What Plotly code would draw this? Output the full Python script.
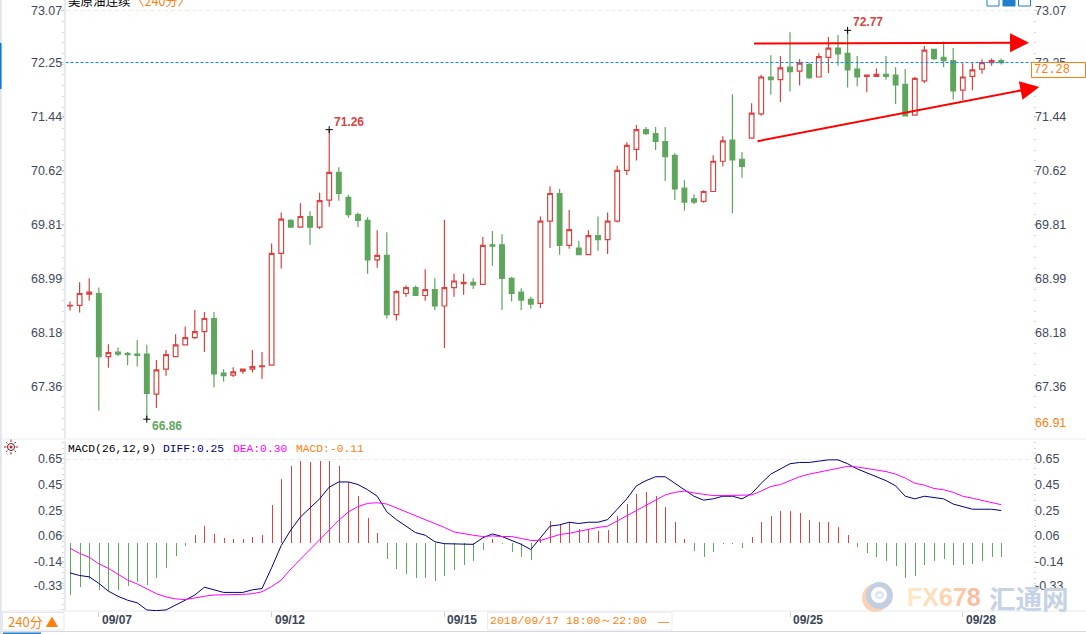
import plotly.graph_objects as go

# ---- data ----
opens = [68.58,68.59,68.76,68.77,67.81,67.88,67.86,67.85,67.85,67.24,67.62,67.81,67.99,68.10,68.19,68.39,67.56,67.53,67.59,67.62,67.66,67.68,
 69.38,69.88,69.78,69.94,69.78,70.19,70.61,70.23,69.97,69.88,69.28,69.35,68.45,68.77,68.86,68.74,68.83,68.58,68.86,68.92,68.94,68.91,69.51,69.51,69.00,68.79,68.68,68.62,
 69.87,70.29,69.50,69.46,69.36,69.65,69.59,69.87,70.64,70.96,71.26,71.20,71.08,70.87,70.37,70.21,70.17,70.32,70.78,71.10,70.81,71.13,
 71.50,72.06,72.02,72.21,72.15,72.25,72.06,72.36,72.50,72.42,72.18,72.07,72.07,72.10,72.09,71.95,71.48,72.00,72.48,72.36,72.31,71.86,72.07,72.18,72.28,72.31]
highs = [68.65,68.94,69.00,68.86,68.00,67.95,67.88,68.06,67.99,67.76,67.91,68.15,68.27,68.52,68.49,68.49,67.62,67.65,67.63,67.91,67.88,69.53,
 70.00,69.90,70.14,70.02,70.30,71.26,70.69,70.27,70.00,69.93,69.73,69.70,68.82,68.89,68.89,69.14,69.00,69.89,69.07,69.07,69.00,69.63,69.72,69.67,69.02,68.85,68.72,69.94,
 70.40,70.36,70.04,69.57,69.73,69.94,70.00,70.71,71.07,71.33,71.30,71.30,71.30,70.90,70.49,70.28,70.34,70.87,71.16,71.80,70.92,71.66,
 72.09,72.39,72.38,72.74,72.33,72.28,72.42,72.67,72.70,72.77,72.38,72.09,72.19,72.38,72.21,72.18,72.06,72.53,72.49,72.60,72.50,72.27,72.27,72.33,72.34,72.34]
lows = [68.51,68.48,68.66,66.99,67.64,67.82,67.68,67.66,66.86,67.03,67.52,67.81,67.99,68.08,67.88,67.34,67.43,67.50,67.55,67.57,67.47,67.68,
 69.15,69.77,69.78,69.51,69.75,70.09,70.18,69.92,69.78,69.07,69.16,68.39,68.36,68.72,68.74,68.66,68.52,67.94,68.72,68.75,68.84,68.91,69.19,68.52,68.65,68.52,68.54,68.55,
 69.46,69.36,69.45,69.36,69.36,69.42,69.37,69.85,70.57,70.79,71.18,70.95,70.48,70.19,70.03,70.13,70.15,70.32,70.70,69.99,70.53,71.13,
 71.47,71.79,71.68,71.84,71.93,72.03,72.06,72.12,72.23,71.90,71.92,71.83,72.06,72.02,71.65,71.47,71.48,71.97,72.32,72.21,71.72,71.71,71.86,72.11,72.23,72.25]
closes = [68.59,68.77,68.79,67.81,67.87,67.85,67.84,67.83,67.25,67.61,67.84,67.99,68.10,68.19,68.39,67.55,67.52,67.58,67.62,67.66,67.67,69.38,
 69.90,69.78,69.94,69.78,70.18,70.61,70.29,69.97,69.88,69.28,69.35,68.45,68.80,68.86,68.74,68.83,68.58,68.86,68.96,68.94,68.90,69.50,69.49,69.00,68.77,68.67,68.61,69.87,
 70.29,69.50,69.74,69.36,69.65,69.59,69.87,70.64,71.02,71.26,71.20,71.08,70.85,70.36,70.16,70.16,70.32,70.78,71.09,70.80,70.70,71.51,
 72.06,72.02,72.20,72.14,72.27,72.05,72.37,72.50,72.41,72.17,72.06,72.09,72.10,72.07,71.94,71.47,72.04,72.47,72.34,72.31,71.85,72.06,72.17,72.28,72.31,72.28]

macd_hist = [-.40,-.34,-.28,-.36,-.37,-.36,-.33,-.30,-.32,-.27,-.19,-.10,-.02,.06,.13,.07,.04,.03,.03,.05,.06,.29,.49,.59,.63,.62,.63,.63,.59,.47,.36,.19,
 .08,-.12,-.20,-.24,-.27,-.27,-.29,-.25,-.21,-.17,-.14,-.05,.03,-.01,-.07,-.11,-.13,.03,.17,.15,.16,.11,.11,.09,.10,.21,.30,.38,.39,.36,.28,.16,.03,-.06,-.11,-.07,-.01,
 -.01,-.04,.05,.16,.21,.25,.25,.23,.18,.16,.16,.12,.06,-.03,-.08,-.11,-.14,-.18,-.27,-.25,-.17,-.14,-.12,-.17,-.17,-.16,-.14,-.11,-.11]
diff = [-.23,-.25,-.26,-.31,-.37,-.41,-.44,-.46,-.515,-.52,-.515,-.48,-.44,-.40,-.34,-.36,-.38,-.38,-.38,-.36,-.35,-.19,-.02,.10,.20,.27,.34,.43,.47,.47,.45,.41,
 .36,.24,.18,.13,.08,.06,.01,-.005,-.005,-.01,-.01,.04,.07,.05,.02,-.01,-.05,.04,.13,.14,.16,.15,.16,.16,.18,.26,.34,.44,.48,.51,.51,.46,.41,.36,.33,.34,.36,
 .36,.34,.38,.46,.53,.57,.61,.62,.62,.63,.64,.64,.61,.57,.54,.51,.48,.44,.36,.34,.36,.35,.34,.30,.28,.26,.26,.26,.25]
dea = [-.04,-.08,-.11,-.16,-.195,-.24,-.285,-.315,-.355,-.39,-.415,-.43,-.435,-.42,-.41,-.40,-.40,-.395,-.395,-.39,-.375,-.335,-.285,-.20,-.125,-.045,.03,.105,.175,.24,.28,.305,
 .31,.30,.27,.245,.215,.18,.15,.12,.085,.07,.06,.05,.055,.05,.05,.035,.02,.02,.045,.065,.075,.09,.11,.12,.13,.17,.205,.245,.285,.325,.37,.39,.40,.385,.375,.365,.365,
 .365,.365,.37,.40,.435,.45,.48,.51,.53,.545,.565,.58,.59,.585,.575,.565,.55,.53,.50,.46,.445,.42,.41,.39,.36,.345,.33,.31,.295]

price_ticks = [73.07,72.28,71.46,70.64,69.82,69.00,68.18,67.36]
price_labels = ["73.07","72.25","71.44","70.62","69.81","68.99","68.18","67.36"]
macd_ticks = [0.65,0.45,0.25,0.06,-0.14,-0.33]
macd_labels = ["0.65","0.45","0.25","0.06","-0.14","-0.33"]
date_idx = [3,21,39,75,93]
date_labels = ["09/07","09/12","09/15","09/25","09/28"]
last_price = 72.28

RED = "#d8433f"; GREEN = "#5fa65d"; ORANGE = "#ff7f0e"; LABEL = "#3f4a5a"
BAR_UP = "rgba(216,67,63,0.99)"; BAR_DOWN = "rgba(95,166,93,0.99)"
SANS = "Liberation Sans"; MONO = "Liberation Mono"
W, H = 1086, 634
def px(x): return x / W
def py(y): return 1 - y / H

x = list(range(len(opens)))
XR = [-0.47, 100.26]
PR = [66.574, 73.2305]
MR = [-0.523, 0.785]

fig = go.Figure()
fig.add_trace(go.Candlestick(
    x=x, open=opens, high=highs, low=lows, close=closes,
    increasing=dict(line=dict(color=RED, width=1.2), fillcolor="white"),
    decreasing=dict(line=dict(color=GREEN, width=1.2), fillcolor=GREEN),
    whiskerwidth=0, xaxis="x", yaxis="y", showlegend=False))
fig.add_trace(go.Scatter(x=XR, y=[last_price, last_price], mode="lines",
    line=dict(color="#0a84ff", width=1, dash="3px,2px"), xaxis="x", yaxis="y3", showlegend=False))
# high / low markers
ext = [(27, highs[27]), (81, highs[81]), (8, lows[8])]
fig.add_trace(go.Scatter(x=[e[0] for e in ext], y=[e[1] for e in ext], mode="markers",
    marker=dict(symbol="cross-thin", size=5, line=dict(color="black", width=1)),
    xaxis="x", yaxis="y", showlegend=False))

fig.add_trace(go.Bar(x=x, y=macd_hist, width=0.1,
    marker=dict(color=[BAR_UP if v > 0 else BAR_DOWN for v in macd_hist], line=dict(width=0)),
    xaxis="x2", yaxis="y2", showlegend=False))
fig.add_trace(go.Scatter(x=x, y=diff, mode="lines", line=dict(color="#000080", width=1),
    xaxis="x2", yaxis="y2", showlegend=False))
fig.add_trace(go.Scatter(x=x, y=dea, mode="lines", line=dict(color="#ff00ff", width=1),
    xaxis="x2", yaxis="y4", showlegend=False))

tickfont = dict(family=SANS, size=12.5, color=LABEL)
common = dict(showgrid=False, zeroline=False, ticks="outside", ticklen=3, tickcolor="#c9ced6",
              tickfont=tickfont, tickmode="array", fixedrange=True, ticklabelstandoff=-4)
minor = dict(ticks="outside", ticklen=2, tickcolor="#d5d8dd", showgrid=False)
dom_x = [px(65.5), px(1032.5)]
dom_main = [py(438), 1]
dom_macd = [py(611), py(441)]

fig.update_layout(
    width=W, height=H, margin=dict(l=0, r=0, t=0, b=0),
    paper_bgcolor="white", plot_bgcolor="white", bargap=0,
    xaxis=dict(domain=dom_x, range=XR, visible=False, rangeslider=dict(visible=False), fixedrange=True),
    xaxis2=dict(domain=dom_x, range=XR, anchor="y2", showgrid=False, zeroline=False, showline=False,
                tickmode="array", tickvals=date_idx, ticktext=[""] * len(date_idx),
                ticks="outside", ticklen=5, tickcolor="#c9ced6", fixedrange=True),
    yaxis=dict(domain=dom_main, range=PR, anchor="x", side="left", tickvals=price_ticks, ticktext=price_labels,
               showline=True, linecolor="#e6e9ee", linewidth=1.5,
               minor=dict(minor, tickmode="linear", tick0=73.07, dtick=0.1631), **common),
    yaxis3=dict(range=PR, anchor="x", overlaying="y", side="right", tickvals=price_ticks, ticktext=price_labels,
                showline=False, minor=dict(minor, tickmode="linear", tick0=73.07, dtick=0.1631), **common),
    yaxis2=dict(domain=dom_macd, range=MR, anchor="x2", side="left", tickvals=macd_ticks, ticktext=macd_labels,
                showline=True, linecolor="#e6e9ee", linewidth=1.5,
                minor=dict(minor, tickmode="linear", tick0=0.65, dtick=0.04), **common),
    yaxis4=dict(range=MR, anchor="x2", overlaying="y2", side="right", tickvals=macd_ticks, ticktext=macd_labels,
                showline=False, minor=dict(minor, tickmode="linear", tick0=0.65, dtick=0.04), **common),
)

shapes = []
def rect(x0, y0, x1, y1, fill=None, line=None, lw=1, layer="above"):
    shapes.append(dict(type="rect", xref="paper", yref="paper", x0=px(x0), x1=px(x1), y0=py(y0), y1=py(y1),
                       fillcolor=fill or "rgba(0,0,0,0)", line=dict(color=line or "rgba(0,0,0,0)", width=lw if line else 0), layer=layer))
def hline(x0, x1, y, color, lw=1, dash="solid"):
    shapes.append(dict(type="line", xref="paper", yref="paper", x0=px(x0), x1=px(x1), y0=py(y), y1=py(y),
                       line=dict(color=color, width=lw, dash=dash), layer="below"))
def circle(x0, y0, x1, y1, fill=None, line=None, lw=1):
    shapes.append(dict(type="circle", xref="paper", yref="paper", x0=px(x0), x1=px(x1), y0=py(y0), y1=py(y1),
                       fillcolor=fill or "rgba(0,0,0,0)", line=dict(color=line or "rgba(0,0,0,0)", width=lw if line else 0), layer="above"))
def seg(x0, y0, x1, y1, color, lw=1):
    shapes.append(dict(type="line", xref="paper", yref="paper", x0=px(x0), x1=px(x1), y0=py(y0), y1=py(y1),
                       line=dict(color=color, width=lw), layer="above"))

# grid-like dashed lines and frame
hline(66, 1032, 10.5, "#ebebeb", 1, "4px,3px")
hline(66, 1032, 459.5, "#ebebeb", 1, "4px,3px")
hline(0, 1086, 439, "#e8ecf1", 1)
hline(2, 1086, 611, "#e4e8ee", 1)
hline(0, 1086, 631.5, "#d5d9df", 1)
# left strip
rect(0, 0, 1.7, 634, fill="#e1e3ea")
rect(0, 43, 1.5, 89, fill="#0a7ad6")
# top-right toolbar buttons
rect(987, -2, 999, 6, line="#1f7fc8")
rect(1003, -2, 1015, 6, fill="#1f7fc8", line="#1f7fc8")
rect(1018.5, -2, 1030.5, 6, line="#1f7fc8")
# bottom widgets
rect(2.5, 612.5, 64, 630, line="#e3e7ec")
rect(487.5, 612.5, 672, 630, line="#e8ecf1")
rect(3, 632.5, 41, 634, fill="#1f7fc8")
# last price box
rect(1031.5, 62.5, 1085.5, 77.5, fill="white", line=ORANGE)
# settings icon
circle(7.5, 443.5, 14.5, 450.5, line="#333333")
circle(9.5, 445.5, 12.5, 448.5, fill="#e01010")
for a, b, c, d in [(11, 439.5, 11, 442), (11, 452, 11, 454.5), (4, 447, 6.5, 447), (15.5, 447, 18, 447),
                   (6, 442, 7.5, 443.5), (16, 442, 14.5, 443.5), (6, 452, 7.5, 450.5), (16, 452, 14.5, 450.5)]:
    seg(a, b, c, d, "#e01010", 1)
# watermark logo
circle(862, 584, 889, 612, fill="#fad2b4")
circle(866, 582, 893, 609, fill="#c3cfe0")
circle(871, 587, 887, 603, fill="white")
circle(875, 591, 884, 599, fill="#dbe3ee")
circle(877.5, 593.5, 882, 597, fill="white")
fig.update_layout(shapes=shapes)

def note(text, xp, yp, color="black", size=12, family=SANS, anchor="left"):
    return dict(text=text, x=px(xp), y=py(yp), xref="paper", yref="paper", xanchor=anchor, yanchor="middle",
                showarrow=False, font=dict(color=color, size=size, family=family), borderpad=0)

ann = [
    note('美原油连续', 66.5, 1, "black", 12.5, "Noto Sans CJK SC"),
    note('〈240分〉', 131, 1, ORANGE, 12.5, "Noto Sans CJK SC"),
    note("MACD(26,12,9)", 67, 449, "black", 11.3, MONO),
    note("DIFF:0.25", 162, 449, "#000080", 11.3, MONO),
    note("DEA:0.30", 232, 449, "#ff00ff", 11.3, MONO),
    note("MACD:-0.11", 295, 449, ORANGE, 11.3, MONO),
    note("240分 ▲", 7, 621, ORANGE, 13, "Noto Sans CJK SC"),
    note("2018/09/17 18:00～22:00", 489, 620.5, ORANGE, 11.5, MONO),
    note("—", 656.5, 620.5, ORANGE, 11.5, SANS),
    note("66.91", 1034, 423.5, ORANGE, 12.5),
    note("72.28", 1033, 70, ORANGE, 12, MONO),
    note('<b><span style="color:#fde7c4">F</span><span style="color:#fcdfba">X</span><span style="color:#fbd5b0">6</span><span style="color:#fbc9a6">7</span><span style="color:#f9bea2">8</span></b>',
         906, 597, "#fbd5b0", 25, SANS),
    note("<b>汇通网</b>", 987.5, 597, "#c6d3e6", 26.5, "Noto Sans CJK SC"),
]
# date labels on the time axis
for i, t in zip(date_idx, date_labels):
    ann.append(dict(text="<b>%s</b>" % t, x=i, y=py(620), xref="x2", yref="paper", xanchor="left", yanchor="middle",
                    xshift=1, showarrow=False, font=dict(family=SANS, size=12, color="#3b4656")))
# extreme value labels
ann += [
    dict(text="<b>71.26</b>", x=27, y=highs[27], xref="x", yref="y", xanchor="left", yanchor="middle", xshift=3, yshift=8,
         showarrow=False, font=dict(family=SANS, size=12, color=RED)),
    dict(text="<b>72.77</b>", x=81, y=highs[81], xref="x", yref="y", xanchor="left", yanchor="middle", xshift=3, yshift=8,
         showarrow=False, font=dict(family=SANS, size=12, color=RED)),
    dict(text="<b>66.86</b>", x=8, y=lows[8], xref="x", yref="y", xanchor="left", yanchor="middle", xshift=3, yshift=-7,
         showarrow=False, font=dict(family=SANS, size=12, color=GREEN)),
]
# hand-drawn trend arrows
for (x0, y0, x1, y1) in [(71.1, 72.57, 99.9, 72.58), (71.46, 71.08, 100.97, 71.91)]:
    ann.append(dict(x=x1, y=y1, ax=x0, ay=y0, xref="x", yref="y", axref="x", ayref="y", text="",
                    showarrow=True, arrowhead=2, arrowsize=1.9, arrowwidth=2, arrowcolor="#ff0000"))
fig.update_layout(annotations=ann)

fig.write_html("out.html", config=dict(displayModeBar=False), post_script="document.body.style.margin='0';")
